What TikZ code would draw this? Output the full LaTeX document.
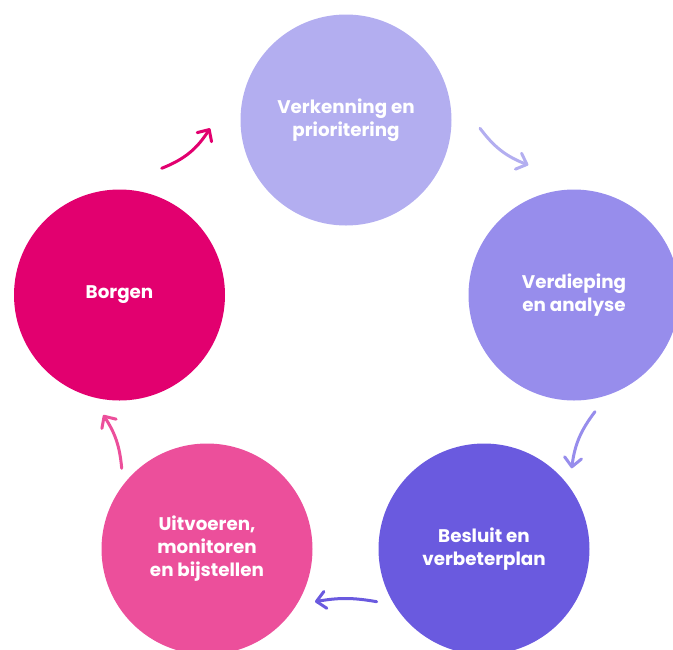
\documentclass[tikz,border=0pt]{standalone}
\usepackage{fontspec}
\setmainfont{Poppins}
\usetikzlibrary{arrows.meta}
\definecolor{cTop}{HTML}{B3AEF0}
\definecolor{cRight}{HTML}{978DEC}
\definecolor{cBR}{HTML}{6A5ADF}
\definecolor{cBL}{HTML}{EC4F9B}
\definecolor{cLeft}{HTML}{E2006F}
\tikzset{
  stage/.style={circle, minimum size=211pt, inner sep=0pt, text=white,
    font=\bfseries\fontsize{18.3}{23}\selectfont, align=center},
  flow/.style={line width=3pt, line cap=round,
    -{Straight Barb[length=9pt,width=17pt,line width=3pt,round]}},
}
\begin{document}
\begin{tikzpicture}[x=1pt,y=-1pt]
\useasboundingbox (0,0) rectangle (673,649);
\clip (0,0) rectangle (673,649);
\node[stage, fill=cTop]   (top)   at (346,120) {Verkenning en\\prioritering};
\node[stage, fill=cRight] (right) at (574,295) {Verdieping\\en analyse};
\node[stage, fill=cBR]    (br)    at (484,549) {Besluit en\\verbeterplan};
\node[stage, fill=cBL]    (bl)    at (207,549) {Uitvoeren,\\monitoren\\en bijstellen};
\node[stage, fill=cLeft]  (left)  at (119.5,295) {Borgen};
\coordinate (a1s) at (161.7,168.3); \coordinate (a1e) at (210,128.3);
\coordinate (a2s) at (480,128.3);   \coordinate (a2e) at (528.3,165);
\coordinate (a3s) at (595,411.7);   \coordinate (a3e) at (571.7,468.3);
\coordinate (a4s) at (376.7,601.7); \coordinate (a4e) at (315,601.7);
\coordinate (a5s) at (121.7,468.3); \coordinate (a5e) at (103.3,415);
\draw[flow, cLeft]  (a1s) to[bend right=18] (a1e);
\draw[flow, cTop]   (a2s) to[bend right=16] (a2e);
\draw[flow, cRight] (a3s) to[bend right=15] (a3e);
\draw[flow, cBR]    (a4s) to[bend right=10] (a4e);
\draw[flow, cBL]    (a5s) to[bend right=14] (a5e);
\end{tikzpicture}
\end{document}
